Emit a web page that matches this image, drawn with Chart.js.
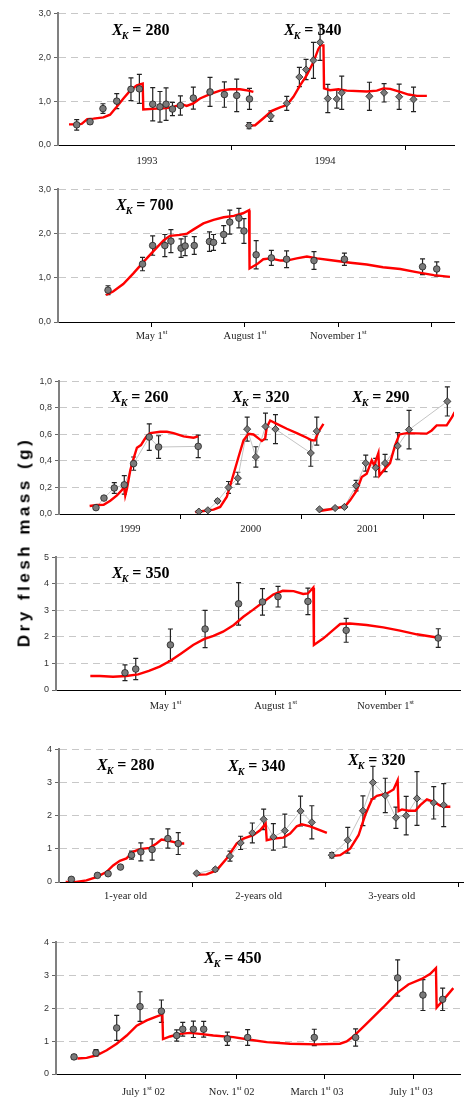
<!DOCTYPE html>
<html>
<head>
<meta charset="utf-8">
<script src="https://cdn.jsdelivr.net/npm/chart.js@4.4.1/dist/chart.umd.min.js"></script>
<style>
  html, body { margin: 0; padding: 0; background: #fff; }
  #page { position: relative; width: 473px; height: 1097px; overflow: hidden; background: #fff; }
  #page canvas { position: absolute; left: 0; }
  #ylabel {
    position: absolute; left: 24px; top: 542px;
    transform: translate(-50%, -50%) rotate(-90deg);
    font: bold 17px "Liberation Sans", Arial, sans-serif;
    line-height: 17px; letter-spacing: 3.5px; white-space: nowrap; color: #000;
  }
</style>
</head>
<body>
<div id="page">
  <canvas id="p1"></canvas>
  <canvas id="p2"></canvas>
  <canvas id="p3"></canvas>
  <canvas id="p4"></canvas>
  <canvas id="p5"></canvas>
  <canvas id="p6"></canvas>
  <div id="ylabel">Dry flesh mass (g)</div>
</div>
<script>
// ---- Panel 1: 1993 / 1994 (x in months) ----
const p1Ticks = [11.93, 23.93];
const p1LabelPos = [6.14, 18.41];
const p1Labels = ['1993', '1994'];

const p1aX = [1.29, 2.21, 3.10, 4.05, 5.03, 5.61, 6.53, 7.03, 7.45, 7.89, 8.44, 9.33, 10.48, 11.47, 12.32, 13.20];
const p1aY = [0.46, 0.53, 0.83, 1.00, 1.27, 1.28, 0.93, 0.87, 0.93, 0.82, 0.90, 1.07, 1.21, 1.15, 1.13, 1.05];
const p1aErr = [0.12, 0.05, 0.11, 0.17, 0.26, 0.33, 0.38, 0.35, 0.37, 0.15, 0.22, 0.25, 0.33, 0.29, 0.37, 0.24];
const p1aFitX = [0.76, 1.29, 1.63, 2.02, 2.44, 3.13, 3.59, 4.05, 4.51, 4.97, 5.43, 5.84, 5.88, 6.80, 7.49, 7.95, 8.53, 8.87, 9.33, 9.79, 10.48, 11.17, 11.86, 12.55, 13.13, 13.47];
const p1aFitY = [0.47, 0.47, 0.48, 0.59, 0.60, 0.63, 0.69, 0.87, 1.06, 1.24, 1.36, 1.40, 0.81, 0.83, 0.84, 0.87, 0.93, 0.89, 0.95, 1.06, 1.16, 1.24, 1.27, 1.27, 1.24, 1.21];

const p1bX = [13.17, 14.67, 15.77, 16.64, 17.10, 17.61, 18.07, 18.60, 19.22, 19.56, 21.47, 22.48, 23.52, 24.51];
const p1bY = [0.44, 0.66, 0.95, 1.55, 1.72, 1.93, 2.34, 1.06, 1.05, 1.19, 1.11, 1.19, 1.10, 1.04];
const p1bErr = [0.07, 0.12, 0.16, 0.22, 0.23, 0.41, 0.41, 0.32, 0.21, 0.38, 0.32, 0.21, 0.29, 0.28];
const p1bFitX = [12.97, 13.59, 14.16, 14.74, 15.31, 15.77, 16.23, 16.69, 17.15, 17.61, 17.95, 18.11, 18.30, 18.34, 18.76, 19.33, 19.91, 21.29, 21.98, 22.44, 22.90, 23.59, 24.16, 24.74, 25.43];
const p1bFitY = [0.44, 0.45, 0.61, 0.78, 0.86, 0.91, 1.10, 1.36, 1.59, 1.89, 2.19, 2.27, 2.27, 1.29, 1.25, 1.27, 1.24, 1.22, 1.24, 1.29, 1.28, 1.21, 1.15, 1.12, 1.12];

// ---- Panel 2: X_K = 700 (x in day of year) ----
const p2Ticks = [121, 213, 305, 397];
const p2LabelPos = [121, 213, 305];
const p2Labels = ['May 1^st', 'August 1^st', 'November 1^st'];

const p2X = [78, 112, 122, 134, 140, 150, 154, 163, 178, 182, 192, 198, 207, 212, 224, 239, 254, 281, 311, 388, 402];
const p2Y = [0.72, 1.31, 1.73, 1.73, 1.83, 1.67, 1.72, 1.73, 1.82, 1.80, 1.98, 2.26, 2.35, 2.06, 1.52, 1.45, 1.42, 1.39, 1.42, 1.25, 1.20];
const p2Err = [0.10, 0.15, 0.22, 0.25, 0.26, 0.21, 0.22, 0.20, 0.22, 0.18, 0.20, 0.27, 0.22, 0.28, 0.32, 0.17, 0.19, 0.20, 0.14, 0.18, 0.16];
const p2FitX = [76, 83, 93, 103, 113, 123, 133, 139, 149, 156, 162, 172, 182, 192, 202, 211, 217, 217.5, 225, 231, 238, 248, 254, 264, 274, 284, 300, 317, 333, 349, 366, 382, 399, 415];
const p2FitY = [0.61, 0.69, 0.86, 1.10, 1.36, 1.61, 1.85, 1.95, 1.97, 2.00, 2.09, 2.23, 2.31, 2.37, 2.40, 2.46, 2.53, 1.21, 1.31, 1.42, 1.44, 1.39, 1.39, 1.44, 1.48, 1.44, 1.39, 1.34, 1.30, 1.24, 1.20, 1.13, 1.06, 1.02];

// ---- Panel 3: 1999 / 2000 / 2001 (x in days) ----
const p3Ticks = [364, 729, 1094];
const p3LabelPos = [213, 576, 926];
const p3Labels = ['1999', '2000', '2001'];

const p3aX = [111, 135, 166, 196, 224, 271, 299, 418];
const p3aY = [0.048, 0.12, 0.196, 0.22, 0.38, 0.58, 0.505, 0.51];
const p3aErr = [0.01, 0.008, 0.04, 0.07, 0.05, 0.10, 0.085, 0.085];
const p3aFitX = [92, 114, 134, 154, 174, 189, 196, 199, 204, 214, 224, 234, 246, 256, 264, 274, 304, 324, 344, 374, 404, 418];
const p3aFitY = [0.06, 0.068, 0.07, 0.10, 0.14, 0.18, 0.21, 0.14, 0.19, 0.33, 0.42, 0.50, 0.52, 0.56, 0.59, 0.61, 0.62, 0.62, 0.61, 0.585, 0.575, 0.585];

const p3bX = [420, 447, 476, 509, 537, 565, 591, 620, 650, 756, 774];
const p3bY = [0.018, 0.028, 0.098, 0.20, 0.27, 0.64, 0.43, 0.66, 0.64, 0.46, 0.625];
const p3bErr = [0.005, 0.008, 0.012, 0.045, 0.045, 0.09, 0.077, 0.10, 0.11, 0.10, 0.105];
const p3bFitX = [409, 434, 464, 484, 504, 524, 539, 554, 569, 584, 599, 609, 619, 624, 634, 654, 684, 714, 744, 759, 769, 779, 794];
const p3bFitY = [0.015, 0.023, 0.033, 0.053, 0.13, 0.30, 0.43, 0.555, 0.605, 0.60, 0.57, 0.55, 0.57, 0.655, 0.705, 0.68, 0.643, 0.61, 0.575, 0.555, 0.555, 0.62, 0.68];

const p3cX = [782, 829, 857, 892, 921, 951, 979, 1017, 1051, 1166];
const p3cY = [0.035, 0.045, 0.053, 0.214, 0.384, 0.349, 0.384, 0.513, 0.636, 0.849];
const p3cErr = [0.005, 0.005, 0.008, 0.04, 0.06, 0.07, 0.065, 0.10, 0.145, 0.11];
const p3cFitX = [782, 824, 859, 874, 894, 909, 924, 939, 946, 959, 962, 979, 994, 1009, 1022, 1044, 1104, 1119, 1134, 1164, 1179, 1188];
const p3cFitY = [0.023, 0.04, 0.058, 0.103, 0.178, 0.279, 0.304, 0.405, 0.367, 0.46, 0.29, 0.342, 0.384, 0.518, 0.60, 0.61, 0.606, 0.63, 0.668, 0.668, 0.726, 0.769];

// ---- Panel 4: X_K = 350 (x in day of year) ----
const p4Ticks = [121, 213, 305];
const p4LabelPos = [121, 213, 305];
const p4Labels = ['May 1^st', 'August 1^st', 'November 1^st'];

const p4X = [87, 96, 125, 154, 182, 202, 215, 240, 272, 349];
const p4Y = [0.65, 0.79, 1.70, 2.30, 3.25, 3.32, 3.52, 3.34, 2.25, 1.96];
const p4Err = [0.30, 0.40, 0.60, 0.70, 0.80, 0.50, 0.39, 0.50, 0.45, 0.35];
const p4FitX = [58, 66, 77, 88, 98, 107, 116, 125, 134, 144, 153, 161, 169, 178, 186, 194, 203, 211, 219, 228, 236, 240, 244.5, 245, 253, 261, 267, 275, 289, 303, 317, 331, 348];
const p4FitY = [0.53, 0.53, 0.50, 0.53, 0.59, 0.72, 0.88, 1.10, 1.38, 1.70, 1.92, 2.04, 2.20, 2.45, 2.76, 3.02, 3.33, 3.60, 3.74, 3.73, 3.62, 3.64, 3.86, 1.70, 1.95, 2.26, 2.49, 2.51, 2.45, 2.36, 2.24, 2.10, 1.98];

// ---- Panel 5: cohorts by age (x in years) ----
const p5Ticks = [1, 2, 3];
const p5LabelPos = [0.5, 1.5, 2.5];
const p5Labels = ['1-year old', '2-years old', '3-years old'];

const p5aX = [0.093, 0.289, 0.369, 0.462, 0.545, 0.615, 0.700, 0.818, 0.896];
const p5aY = [0.08, 0.20, 0.25, 0.45, 0.81, 0.91, 0.98, 1.31, 1.16];
const p5aErr = [0.03, 0.03, 0.03, 0.05, 0.12, 0.27, 0.32, 0.29, 0.33];
const p5aFitX = [0.05, 0.13, 0.206, 0.281, 0.356, 0.407, 0.457, 0.507, 0.557, 0.607, 0.683, 0.733, 0.770, 0.808, 0.858, 0.908, 0.941];
const p5aFitY = [0.0, 0.0, 0.05, 0.15, 0.30, 0.50, 0.64, 0.71, 0.91, 0.99, 1.03, 1.16, 1.28, 1.26, 1.21, 1.16, 1.16];

const p5bX = [1.034, 1.175, 1.285, 1.365, 1.453, 1.538, 1.611, 1.697, 1.815, 1.900];
const p5bY = [0.26, 0.38, 0.78, 1.18, 1.48, 1.89, 1.36, 1.55, 2.14, 1.80];
const p5bErr = [0.03, 0.05, 0.15, 0.20, 0.30, 0.31, 0.40, 0.50, 0.45, 0.50];
const p5bFitX = [1.021, 1.109, 1.184, 1.260, 1.335, 1.385, 1.460, 1.511, 1.553, 1.561, 1.611, 1.686, 1.737, 1.787, 1.824, 1.887, 1.950, 2.013];
const p5bFitY = [0.22, 0.23, 0.35, 0.71, 1.16, 1.31, 1.41, 1.56, 1.76, 1.26, 1.31, 1.34, 1.46, 1.68, 1.74, 1.68, 1.58, 1.48];

const p5cX = [2.050, 2.170, 2.284, 2.359, 2.452, 2.532, 2.609, 2.690, 2.816, 2.891];
const p5cY = [0.81, 1.26, 2.15, 3.00, 2.61, 1.94, 2.00, 2.52, 2.39, 2.32];
const p5cErr = [0.08, 0.39, 0.45, 0.49, 0.52, 0.32, 0.58, 0.81, 0.49, 0.65];
const p5cFitX = [2.050, 2.113, 2.188, 2.251, 2.301, 2.351, 2.389, 2.464, 2.514, 2.545, 2.552, 2.577, 2.627, 2.678, 2.715, 2.765, 2.816, 2.866, 2.903, 2.941];
const p5cFitY = [0.78, 0.81, 1.01, 1.41, 2.02, 2.49, 2.60, 2.67, 2.79, 3.07, 2.14, 2.19, 2.15, 2.15, 2.32, 2.49, 2.42, 2.30, 2.27, 2.27];

// ---- Panel 6: X_K = 450 (x in days since 1 Jan 2002) ----
const p6Ticks = [181, 304, 424, 546];
const p6LabelPos = [178, 298, 414, 542];
const p6Labels = ['July 1^st^ 02', 'Nov. 1^st^ 02', 'March 1^st^ 03', 'July 1^st^ 03'];

const p6X = [83.5, 113.4, 141.6, 173.3, 202.4, 223.2, 231.4, 245.9, 259.9, 292.1, 319.7, 410.4, 466.6, 523.8, 558.2, 585.0];
const p6Y = [0.52, 0.64, 1.40, 2.05, 1.91, 1.17, 1.36, 1.36, 1.36, 1.07, 1.11, 1.11, 1.11, 2.92, 2.40, 2.27];
const p6Err = [0.07, 0.10, 0.38, 0.45, 0.34, 0.17, 0.21, 0.25, 0.24, 0.20, 0.24, 0.25, 0.26, 0.55, 0.47, 0.34];
const p6FitX = [88.1, 100.7, 114.4, 128.0, 141.6, 155.2, 168.8, 182.4, 193.7, 203.7, 204.6, 214.1, 227.7, 241.3, 254.9, 273.0, 300.2, 322.9, 345.6, 377.3, 413.6, 445.3, 454.4, 463.4, 481.6, 504.3, 522.4, 538.3, 556.4, 567.8, 575.9, 576.8, 585.9, 599.5];
const p6FitY = [0.47, 0.49, 0.57, 0.72, 0.92, 1.17, 1.47, 1.63, 1.73, 1.81, 1.06, 1.14, 1.22, 1.25, 1.22, 1.17, 1.12, 1.04, 0.97, 0.92, 0.90, 0.92, 0.99, 1.14, 1.53, 2.03, 2.45, 2.72, 2.89, 3.04, 3.22, 2.02, 2.25, 2.61];

const SERIF = '"Liberation Serif", "Times New Roman", serif';
const SANS = '"Liberation Sans", Arial, sans-serif';
const zip = (xs, ys) => xs.map((x, i) => ({ x: x, y: ys[i] }));

// error bars, drawn under the datasets
const errorBars = {
  id: 'errorBars',
  beforeDatasetsDraw(chart) {
    const ctx = chart.ctx, xs = chart.scales.x, ys = chart.scales.y;
    ctx.save();
    ctx.strokeStyle = '#222';
    ctx.lineWidth = 1.2;
    chart.data.datasets.forEach(ds => {
      if (!ds.errs) return;
      ds.data.forEach((p, i) => {
        const e = ds.errs[i];
        const px = xs.getPixelForValue(p.x);
        const top = ys.getPixelForValue(p.y + e), bot = ys.getPixelForValue(p.y - e);
        ctx.beginPath();
        ctx.moveTo(px, top); ctx.lineTo(px, bot);
        ctx.moveTo(px - 2.5, top); ctx.lineTo(px + 2.5, top);
        ctx.moveTo(px - 2.5, bot); ctx.lineTo(px + 2.5, bot);
        ctx.stroke();
      });
    });
    ctx.restore();
  }
};

// category labels under the x axis, with superscripts ("1^st")
function drawRich(ctx, parts, cx, y) {
  const fonts = ['10.5px ' + SERIF, '7px ' + SERIF];
  let w = 0;
  parts.forEach((t, i) => { ctx.font = fonts[i % 2]; w += ctx.measureText(t).width; });
  let x = cx - w / 2;
  parts.forEach((t, i) => {
    ctx.font = fonts[i % 2];
    ctx.fillText(t, x, i % 2 ? y - 3.5 : y);
    x += ctx.measureText(t).width;
  });
}
const xLabels = {
  id: 'xLabels',
  afterDraw(chart, args, opts) {
    const ctx = chart.ctx, xs = chart.scales.x;
    ctx.save();
    ctx.fillStyle = '#222';
    ctx.textBaseline = 'middle';
    ctx.textAlign = 'left';
    opts.pos.forEach((v, i) => {
      drawRich(ctx, opts.text[i].split('^'), xs.getPixelForValue(v), chart.chartArea.bottom + opts.dy);
    });
    ctx.restore();
  }
};

// "X_K = nnn" panel titles
const titles = {
  id: 'titles',
  afterDraw(chart, args, opts) {
    const ctx = chart.ctx;
    ctx.save();
    ctx.fillStyle = '#000';
    ctx.textBaseline = 'alphabetic';
    opts.list.forEach(t => {
      const y = t.y - opts.top;
      let x = t.x;
      ctx.font = 'italic bold 16px ' + SERIF;
      ctx.fillText('X', x, y);
      x += ctx.measureText('X').width - 1;
      ctx.font = 'italic bold 10px ' + SERIF;
      ctx.fillText('K', x, y + 4);
      x += ctx.measureText('K').width;
      ctx.font = 'bold 16px ' + SERIF;
      ctx.fillText(' = ' + t.k, x, y);
    });
    ctx.restore();
  }
};

function makePanel(p) {
  const padTop = 8, padRight = 10, xH = 26;
  const cv = document.getElementById(p.id);
  const top = p.box.t - padTop;
  cv.width = p.box.r + padRight;
  cv.height = p.box.b - p.box.t + padTop + xH;
  cv.style.top = top + 'px';
  cv.style.width = cv.width + 'px';
  cv.style.height = cv.height + 'px';

  const datasets = [];
  p.series.forEach(s => {
    if (s.link) {
      datasets.push({ data: zip(s.x, s.y), showLine: true, pointRadius: 0,
        borderColor: '#c4c4c4', borderWidth: 1, order: 3 });
    }
    datasets.push({ data: zip(s.x, s.y), errs: s.err, showLine: false,
      pointStyle: s.style, pointRadius: s.style === 'circle' ? 3.3 : 3.6,
      pointBackgroundColor: '#7a7a7a', pointBorderColor: '#222', pointBorderWidth: 0.8, order: 1 });
  });
  p.fits.forEach(f => {
    datasets.push({ data: zip(f[0], f[1]), showLine: true, pointRadius: 0, tension: 0,
      borderColor: '#ff0000', borderWidth: 2.4, order: 2 });
  });

  new Chart(cv, {
    type: 'scatter',
    data: { datasets: datasets },
    options: {
      responsive: false,
      animation: false,
      events: [],
      layout: { padding: { top: padTop, right: padRight, left: 0, bottom: 0 } },
      plugins: {
        legend: { display: false },
        tooltip: { enabled: false },
        xLabels: { pos: p.labelPos, text: p.labels, dy: p.labelDy },
        titles: { list: p.titles, top: top }
      },
      scales: {
        x: {
          type: 'linear', min: p.xMin, max: p.xMax,
          afterBuildTicks: s => { s.ticks = p.xTicks.map(v => ({ value: v })); },
          afterFit: s => { s.height = xH; },
          ticks: { display: false },
          grid: { drawOnChartArea: false, drawTicks: true, tickLength: 5, tickColor: '#000', tickWidth: 1 },
          border: { color: '#000', width: 1 }
        },
        y: {
          min: 0, max: p.yMax,
          afterFit: s => { s.width = p.box.l; },
          ticks: {
            stepSize: p.yStep, padding: 3, color: '#333',
            font: { family: SANS, size: 9 },
            callback: v => p.dec ? v.toFixed(1).replace('.', ',') : String(v)
          },
          grid: { color: '#c8c8c8', lineWidth: 1, tickColor: '#666', tickLength: 4 },
          border: { color: '#808080', width: 2, dash: [7, 5] }
        }
      }
    },
    plugins: [errorBars, xLabels, titles]
  });
}

const panels = [
  { id: 'p1', box: { l: 58, r: 454, t: 13, b: 145 }, xMin: 0, xMax: 27.3, xTicks: p1Ticks,
    labelPos: p1LabelPos, labels: p1Labels, labelDy: 16, yMax: 3, yStep: 1, dec: true,
    series: [{ x: p1aX, y: p1aY, err: p1aErr, style: 'circle' },
             { x: p1bX, y: p1bY, err: p1bErr, style: 'rectRot' }],
    fits: [[p1aFitX, p1aFitY], [p1bFitX, p1bFitY]],
    titles: [{ x: 112, y: 35, k: '280' }, { x: 284, y: 35, k: '340' }] },
  { id: 'p2', box: { l: 58, r: 454, t: 189, b: 322 }, xMin: 28.7, xMax: 419, xTicks: p2Ticks,
    labelPos: p2LabelPos, labels: p2Labels, labelDy: 14, yMax: 3, yStep: 1, dec: true,
    series: [{ x: p2X, y: p2Y, err: p2Err, style: 'circle' }],
    fits: [[p2FitX, p2FitY]],
    titles: [{ x: 116, y: 210, k: '700' }] },
  { id: 'p3', box: { l: 59, r: 454, t: 381, b: 514 }, xMin: 0, xMax: 1186, xTicks: p3Ticks,
    labelPos: p3LabelPos, labels: p3Labels, labelDy: 15, yMax: 1, yStep: 0.2, dec: true,
    series: [{ x: p3aX, y: p3aY, err: p3aErr, style: 'circle', link: true },
             { x: p3bX, y: p3bY, err: p3bErr, style: 'rectRot', link: true },
             { x: p3cX, y: p3cY, err: p3cErr, style: 'rectRot', link: true }],
    fits: [[p3aFitX, p3aFitY], [p3bFitX, p3bFitY], [p3cFitX, p3cFitY]],
    titles: [{ x: 111, y: 402, k: '260' }, { x: 232, y: 402, k: '320' }, { x: 352, y: 402, k: '290' }] },
  { id: 'p4', box: { l: 56, r: 460, t: 557, b: 690 }, xMin: 29.3, xMax: 367.2, xTicks: p4Ticks,
    labelPos: p4LabelPos, labels: p4Labels, labelDy: 16, yMax: 5, yStep: 1, dec: false,
    series: [{ x: p4X, y: p4Y, err: p4Err, style: 'circle' }],
    fits: [[p4FitX, p4FitY]],
    titles: [{ x: 112, y: 578, k: '350' }] },
  { id: 'p5', box: { l: 59, r: 463, t: 749, b: 882 }, xMin: 0, xMax: 3.036, xTicks: p5Ticks,
    labelPos: p5LabelPos, labels: p5Labels, labelDy: 14, yMax: 4, yStep: 1, dec: false,
    series: [{ x: p5aX, y: p5aY, err: p5aErr, style: 'circle' },
             { x: p5bX, y: p5bY, err: p5bErr, style: 'rectRot', link: true },
             { x: p5cX, y: p5cY, err: p5cErr, style: 'rectRot', link: true }],
    fits: [[p5aFitX, p5aFitY], [p5bFitX, p5bFitY], [p5cFitX, p5cFitY]],
    titles: [{ x: 97, y: 770, k: '280' }, { x: 228, y: 771, k: '340' }, { x: 348, y: 765, k: '320' }] },
  { id: 'p6', box: { l: 56, r: 460, t: 942, b: 1074 }, xMin: 59, xMax: 608.6, xTicks: p6Ticks,
    labelPos: p6LabelPos, labels: p6Labels, labelDy: 18, yMax: 4, yStep: 1, dec: false,
    series: [{ x: p6X, y: p6Y, err: p6Err, style: 'circle' }],
    fits: [[p6FitX, p6FitY]],
    titles: [{ x: 204, y: 963, k: '450' }] }
];

panels.forEach(makePanel);
</script>
</body>
</html>
